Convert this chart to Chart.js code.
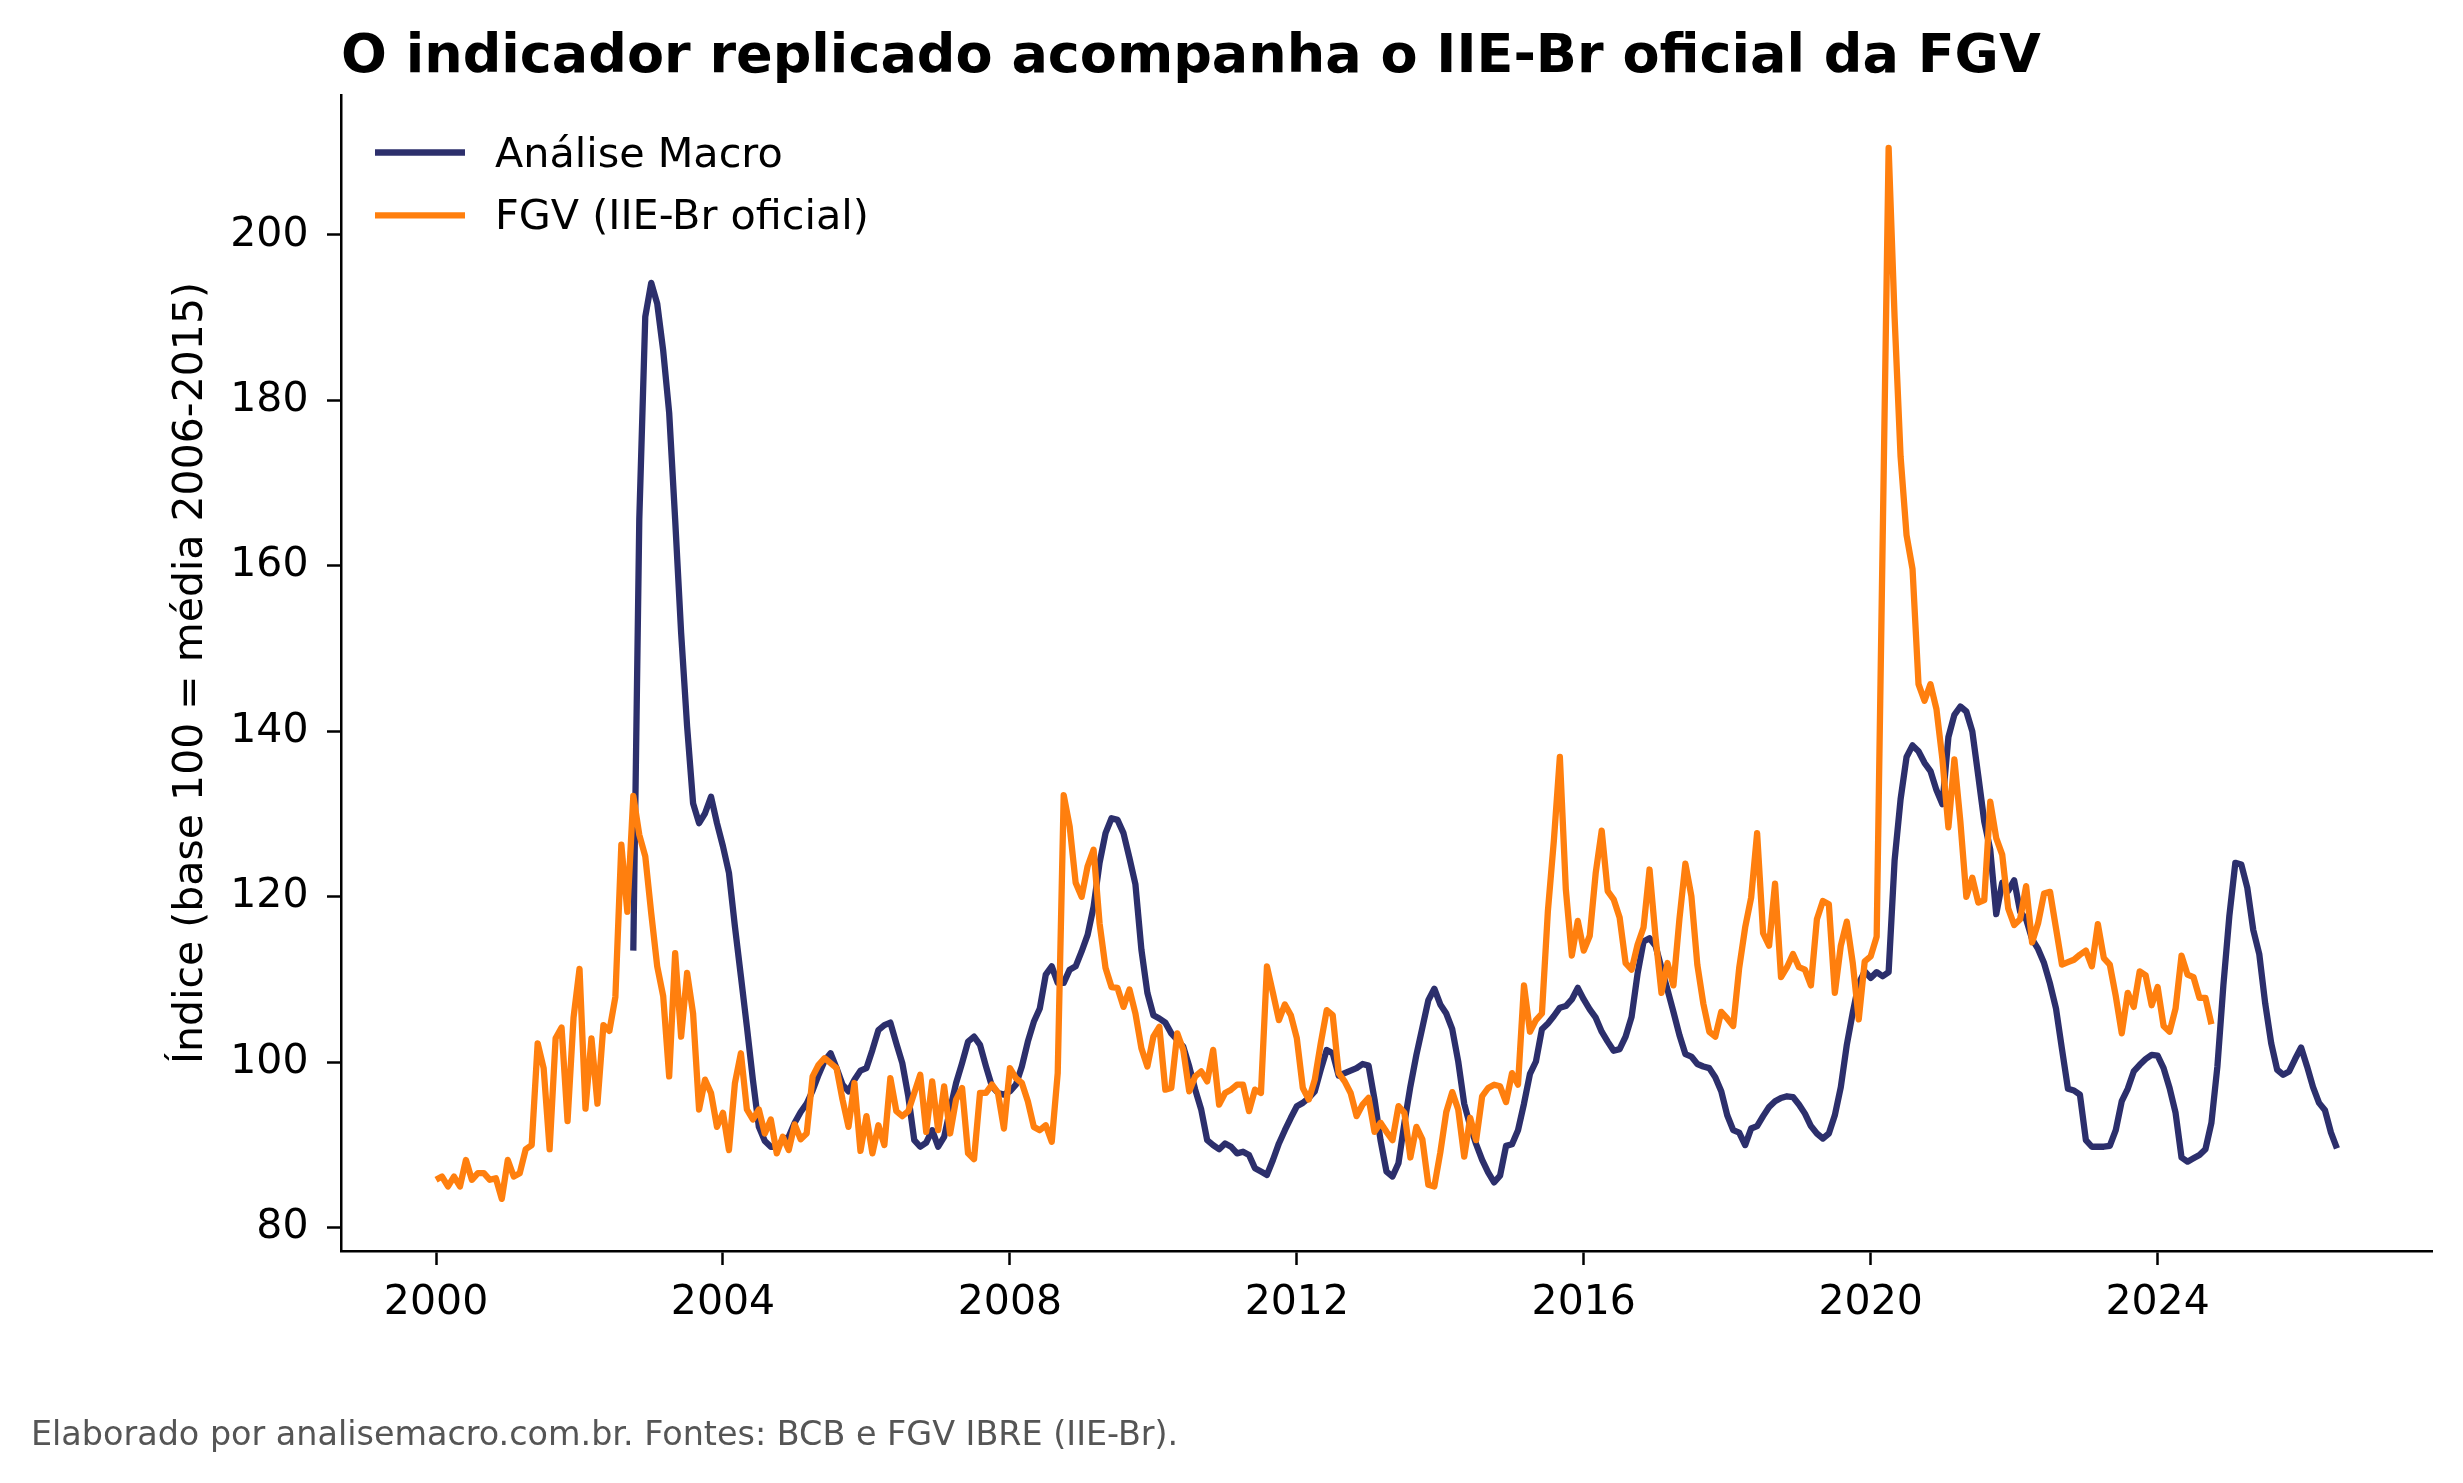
<!DOCTYPE html>
<html><head><meta charset="utf-8">
<script src="https://cdn.jsdelivr.net/npm/chart.js@4.4.1/dist/chart.umd.min.js"></script>
<style>html,body{margin:0;padding:0;background:#fff;overflow:hidden}
#wrap{position:relative;width:2463px;height:1483px}</style>
</head><body><div id="wrap"><canvas id="c"></canvas></div>
<script>
const titleText = "O indicador replicado acompanha o IIE-Br oficial da FGV";
const seriesNames = ["Análise Macro", "FGV (IIE-Br oficial)"];
const yAxisLabel = "Índice (base 100 = média 2006-2015)";
const footnote = "Elaborado por analisemacro.com.br. Fontes: BCB e FGV IBRE (IIE-Br).";
const xTickYears = [2000, 2004, 2008, 2012, 2016, 2020, 2024];
const yTickValues = [80, 100, 120, 140, 160, 180, 200];

// monthly series: first month of each series
const fgvStart = {year: 2000, month: 1};
const amStart = {year: 2002, month: 10};

const fgvValues = [
 85.8, 86.2, 85.0, 86.2, 85.0, 88.2, 85.8, 86.6, 86.6, 85.8, 86.0, 83.5,
 88.2, 86.2, 86.6, 89.5, 90.0, 102.3, 99.3, 89.5, 102.9, 104.2, 92.9, 105.4,
 111.3, 94.4, 102.9, 95.0, 104.5, 103.8, 107.9, 126.3, 118.2, 132.2, 127.5, 124.9,
 118.0, 111.6, 108.0, 98.3, 113.2, 103.1, 110.8, 105.9, 94.3, 97.9, 96.3, 92.2,
 93.9, 89.4, 97.5, 101.1, 94.3, 93.1, 94.3, 91.4, 93.1, 89.0, 91.0, 89.4,
 92.5, 90.7, 91.4, 98.3, 99.7, 100.5, 99.9, 99.3, 95.5, 92.2, 97.5, 89.3,
 93.5, 89.0, 92.4, 90.0, 98.1, 94.1, 93.5, 94.1, 96.3, 98.5, 91.6, 97.7,
 91.8, 97.1, 91.4, 95.5, 96.9, 89.0, 88.3, 96.3, 96.3, 97.3, 96.3, 92.0,
 99.3, 98.1, 97.5, 95.3, 92.2, 91.8, 92.4, 90.4, 98.7, 132.3, 128.5, 121.7,
 120.0, 123.7, 125.7, 116.8, 111.4, 109.1, 109.0, 106.7, 108.8, 105.9, 101.7, 99.5,
 103.1, 104.3, 96.7, 96.9, 103.5, 101.5, 96.5, 98.3, 98.9, 97.7, 101.5, 94.9,
 96.3, 96.7, 97.3, 97.3, 94.1, 96.7, 96.3, 111.6, 108.4, 105.1, 107.0, 105.7,
 102.9, 96.9, 95.5, 97.9, 102.3, 106.3, 105.7, 98.7, 97.7, 96.3, 93.5, 94.9,
 95.7, 91.6, 92.7, 91.6, 90.6, 94.7, 93.9, 88.5, 92.2, 90.7, 85.2, 85.0,
 89.1, 94.0, 96.4, 94.3, 88.6, 93.3, 90.6, 95.9, 96.9, 97.3, 97.1, 95.2,
 98.7, 97.3, 109.3, 103.7, 105.1, 105.9, 118.3, 126.8, 136.9, 120.9, 112.9, 117.1,
 113.5, 115.3, 122.9, 128.0, 120.7, 119.7, 117.5, 112.0, 111.2, 114.2, 116.3, 123.3,
 115.2, 108.4, 112.0, 109.3, 117.3, 124.0, 120.1, 111.8, 107.1, 103.7, 103.1, 106.1,
 105.3, 104.4, 111.4, 116.3, 119.9, 127.7, 115.6, 114.1, 121.6, 110.3, 111.5, 113.1,
 111.5, 111.2, 109.3, 117.3, 119.5, 119.1, 108.4, 114.1, 117.0, 112.0, 105.2, 112.2,
 112.8, 115.2, 163.0, 210.5, 190.0, 173.2, 163.7, 159.6, 145.7, 143.7, 145.7, 142.7,
 136.6, 128.4, 136.6, 129.1, 120.0, 122.3, 119.3, 119.6, 131.5, 127.1, 125.1, 118.6,
 116.6, 117.3, 121.3, 114.5, 116.8, 120.4, 120.6, 116.2, 111.8, 112.1, 112.4, 113.0,
 113.5, 111.6, 116.7, 112.6, 111.8, 108.0, 103.5, 108.4, 106.7, 111.0, 110.5, 106.9,
 109.1, 104.4, 103.7, 106.5, 112.9, 110.6, 110.3, 107.8, 107.8, 104.6
];

const amValues = [
 113.5, 165.6, 190.1,
 194.2, 191.7, 186.0, 178.5, 165.6, 151.9, 140.6, 131.3, 128.9, 130.1, 132.1, 128.9,
 126.1, 122.9, 116.4, 110.4, 104.3, 97.9, 92.2, 90.5, 89.8, 89.8, 90.6, 91.0,
 92.7, 94.0, 95.0, 96.6, 98.5, 100.2, 101.1, 99.3, 97.3, 96.5, 97.9, 99.0,
 99.3, 101.5, 103.9, 104.5, 104.8, 102.3, 99.9, 95.9, 90.6, 89.8, 90.3, 91.8,
 89.8, 91.0, 94.3, 97.5, 99.9, 102.5, 103.1, 102.1, 99.5, 97.1, 96.3, 96.1,
 96.5, 97.3, 99.5, 102.5, 104.9, 106.5, 110.6, 111.6, 109.6, 109.6, 111.2, 111.6,
 113.4, 115.4, 118.8, 124.1, 127.7, 129.5, 129.3, 127.7, 124.7, 121.5, 113.6, 108.4,
 105.7, 105.3, 104.8, 103.5, 102.7, 101.9, 99.5, 96.7, 94.3, 90.6, 90.0, 89.5,
 90.2, 89.8, 89.0, 89.2, 88.8, 87.2, 86.8, 86.4, 88.2, 90.2, 91.8, 93.3,
 94.7, 95.1, 95.7, 96.5, 99.1, 101.5, 101.1, 98.4, 98.7, 99.0, 99.3, 99.8,
 99.6, 95.5, 90.6, 86.8, 86.2, 87.8, 92.7, 97.1, 100.9, 104.2, 107.5, 108.9,
 107.0, 105.9, 104.0, 100.1, 95.0, 92.3, 90.1, 88.2, 86.7, 85.5, 86.3, 89.9,
 90.1, 91.8, 95.0, 98.6, 100.1, 104.0, 104.7, 105.6, 106.6, 106.8, 107.6, 109.0,
 107.6, 106.4, 105.4, 103.7, 102.5, 101.4, 101.6, 103.1, 105.5, 110.7, 114.6, 115.0,
 114.1, 111.4, 108.8, 106.1, 103.3, 101.0, 100.7, 99.8, 99.5, 99.3, 98.2, 96.5,
 93.6, 91.8, 91.5, 90.0, 92.0, 92.3, 93.5, 94.6, 95.3, 95.7, 95.9, 95.8,
 94.9, 93.8, 92.3, 91.4, 90.8, 91.4, 93.6, 97.0, 102.1, 106.0, 109.5, 111.0,
 110.2, 110.9, 110.4, 110.9, 124.4, 131.8, 136.9, 138.3, 137.6, 136.2, 135.2, 132.9,
 131.2, 139.3, 142.0, 143.0, 142.4, 140.0, 134.6, 129.1, 125.7, 117.9, 121.7, 120.7,
 122.0, 118.2, 117.3, 114.9, 113.7, 112.0, 109.5, 106.5, 101.6, 96.8, 96.6, 96.1,
 90.6, 89.8, 89.8, 89.8, 89.9, 91.8, 95.3, 96.8, 98.9, 99.7, 100.4, 100.9,
 100.8, 99.3, 96.9, 93.9, 88.5, 88.0, 88.4, 88.8, 89.5, 92.7, 99.5, 109.3,
 117.7, 124.1, 123.9, 121.1, 116.0, 113.1, 107.1, 102.3, 99.1, 98.5, 98.9, 100.4,
 101.8, 99.5, 97.0, 95.1, 94.2, 91.5, 89.6
];

function monthlyPoints(start, values) {
  return values.map((v, k) => ({x: start.year + (start.month - 1 + k) / 12, y: v}));
}

const AM_COLOR = '#2c2f6c';
const FGV_COLOR = '#ff7f0e';
const FONT = '"DejaVu Sans", sans-serif';

const deco = {
  id: 'deco',
  afterDraw(chart) {
    const ctx = chart.ctx;
    ctx.save();
    ctx.textAlign = 'left';
    ctx.textBaseline = 'alphabetic';
    ctx.fillStyle = '#000';
    ctx.font = 'bold 54px ' + FONT;
    ctx.fillText(titleText, 341, 72);
    const lineY = [152.5, 215.3];
    const baseY = [167, 229];
    const legendOrder = [0, 1];
    legendOrder.forEach((di, k) => {
      const ds = chart.data.datasets[di];
      ctx.strokeStyle = ds.borderColor;
      ctx.lineWidth = ds.borderWidth;
      ctx.lineCap = 'butt';
      ctx.beginPath();
      ctx.moveTo(375, lineY[k]);
      ctx.lineTo(465, lineY[k]);
      ctx.stroke();
      ctx.fillStyle = '#000';
      ctx.font = '41.3px ' + FONT;
      ctx.fillText(ds.label, 495, baseY[k]);
    });
    ctx.fillStyle = '#555555';
    ctx.font = '33.4px ' + FONT;
    ctx.fillText(footnote, 31, 1445);
    ctx.restore();
  }
};

new Chart(document.getElementById('c'), {
  type: 'line',
  data: {
    datasets: [
      {label: seriesNames[0], data: monthlyPoints(amStart, amValues), borderColor: AM_COLOR,
       backgroundColor: AM_COLOR, borderWidth: 6.3, pointRadius: 0, tension: 0, order: 1,
       borderJoinStyle: 'round', fill: false},
      {label: seriesNames[1], data: monthlyPoints(fgvStart, fgvValues), borderColor: FGV_COLOR,
       backgroundColor: FGV_COLOR, borderWidth: 6.3, pointRadius: 0, tension: 0, order: 0,
       borderJoinStyle: 'round', fill: false}
    ]
  },
  options: {
    responsive: true,
    maintainAspectRatio: false,
    animation: false,
    devicePixelRatio: 1,
    layout: {padding: {top: 95, right: 31, bottom: 0, left: 0}},
    plugins: {legend: {display: false}, title: {display: false}, tooltip: {enabled: false}},
    scales: {
      x: {
        type: 'linear', min: 1998.675, max: 2027.825,
        afterBuildTicks: s => { s.ticks = xTickYears.map(v => ({value: v})); },
        afterFit: s => { s.height = 232; },
        grid: {drawOnChartArea: false, drawTicks: true, tickLength: 14, tickWidth: 2.5, tickColor: '#000'},
        border: {display: true, color: '#000', width: 2.5},
        ticks: {color: '#000', font: {family: FONT, size: 41}, padding: 14, autoSkip: false,
                maxRotation: 0, minRotation: 0, callback: v => String(v)}
      },
      y: {
        type: 'linear', min: 77.2, max: 216.9,
        afterBuildTicks: s => { s.ticks = yTickValues.map(v => ({value: v})); },
        afterFit: s => { s.width = 341; },
        grid: {drawOnChartArea: false, drawTicks: true, tickLength: 14, tickWidth: 2.5, tickColor: '#000'},
        border: {display: true, color: '#000', width: 2.5},
        ticks: {color: '#000', font: {family: FONT, size: 41}, padding: 18.5, autoSkip: false,
                callback: v => String(v)},
        title: {display: true, text: yAxisLabel, color: '#000', font: {family: FONT, size: 41},
                padding: {top: 167, bottom: 0}}
      }
    }
  },
  plugins: [deco]
});
</script>
</body></html>
